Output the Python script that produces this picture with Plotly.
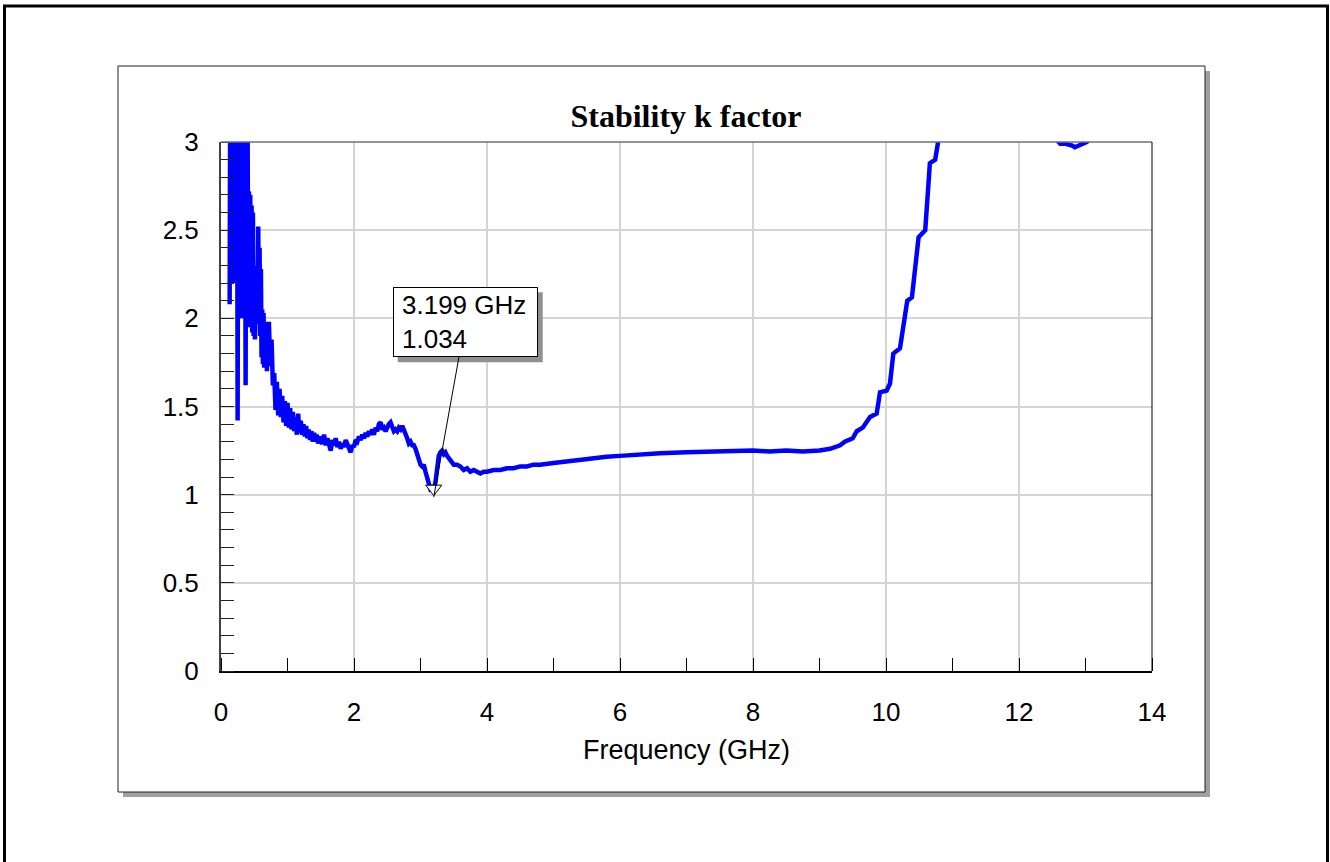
import plotly.graph_objects as go

# ---------------- data ----------------
freq_ghz = [
    0.13, 0.14, 0.15, 0.16, 0.17, 0.18, 0.19, 0.20, 0.21, 0.22,
    0.23, 0.24, 0.25, 0.26, 0.27, 0.28, 0.29, 0.30, 0.31, 0.32,
    0.33, 0.34, 0.35, 0.36, 0.37, 0.38, 0.39, 0.40, 0.41, 0.42,
    0.43, 0.44, 0.45, 0.46, 0.47, 0.48, 0.49, 0.50, 0.51, 0.52,
    0.53, 0.54, 0.55, 0.56, 0.57, 0.58, 0.59, 0.60, 0.61, 0.62,
    0.63, 0.64, 0.65, 0.66, 0.67, 0.68, 0.69, 0.70,
    0.72, 0.74, 0.76, 0.78, 0.80, 0.82, 0.84, 0.86, 0.88, 0.90,
    0.92, 0.94, 0.96, 0.98, 1.00, 1.02, 1.04, 1.06, 1.08, 1.10,
    1.12, 1.14, 1.16, 1.18, 1.20, 1.22, 1.24, 1.26, 1.28, 1.30,
    1.32, 1.34, 1.36, 1.38, 1.40, 1.42, 1.44, 1.46, 1.48, 1.50,
    1.525, 1.55, 1.575, 1.60, 1.625, 1.65, 1.675, 1.70, 1.725, 1.75,
    1.775, 1.80, 1.825, 1.85, 1.875, 1.90, 1.925, 1.95, 1.975, 2.00,
    2.025, 2.05, 2.075, 2.10, 2.125, 2.15, 2.175, 2.20, 2.225, 2.25,
    2.275, 2.30, 2.325, 2.35, 2.375, 2.40, 2.425, 2.45, 2.475, 2.50,
    2.525, 2.55, 2.575, 2.60, 2.625, 2.65, 2.675, 2.70, 2.725, 2.75,
    2.775, 2.80, 2.825, 2.85, 2.875, 2.90, 2.925, 2.95, 2.975, 3.00,
    3.025, 3.05, 3.075, 3.10, 3.125, 3.15, 3.175, 3.199, 3.225, 3.25,
    3.275, 3.30, 3.325, 3.35, 3.375, 3.40, 3.45, 3.50, 3.55, 3.60,
    3.65, 3.70, 3.75, 3.80, 3.85, 3.90, 3.95, 4.00, 4.10, 4.20,
    4.30, 4.40, 4.50, 4.60, 4.70, 4.80, 5.00, 5.20, 5.40, 5.60,
    5.80, 6.00, 6.30, 6.60, 7.00, 7.50, 8.00, 8.25, 8.50, 8.75,
    9.00, 9.16, 9.31, 9.38, 9.50, 9.56, 9.65, 9.76, 9.86, 9.91,
    10.01, 10.06, 10.11, 10.21, 10.24, 10.29, 10.32, 10.39, 10.44, 10.49,
    10.59, 10.63, 10.66, 10.74, 10.78, 10.85, 11.00, 11.50, 12.00, 12.40,
    12.55, 12.62, 12.70, 12.80, 12.84, 12.90, 12.98, 13.02, 13.10, 13.50,
    14.00,
]

k_factor = [
    2.08, 3.50, 2.30, 3.80, 2.20, 3.60, 2.40, 3.90, 2.20, 3.40,
    2.50, 3.70, 1.42, 3.50, 2.00, 3.80, 2.10, 3.30, 2.20, 3.60,
    2.00, 3.40, 2.30, 3.50, 1.62, 3.20, 2.00, 3.10, 1.95, 2.72,
    2.00, 2.70, 1.97, 2.64, 1.92, 2.60, 1.90, 2.20, 1.88, 2.10,
    1.95, 2.30, 1.98, 2.52, 1.97, 2.40, 1.90, 2.28, 1.78, 2.05,
    1.74, 2.03, 1.72, 1.98, 1.73, 1.95, 1.70, 1.80,
    1.98, 1.73, 1.88, 1.62, 1.69, 1.48, 1.64, 1.45, 1.60, 1.44,
    1.56, 1.41, 1.53, 1.39, 1.52, 1.38, 1.49, 1.37, 1.47, 1.36,
    1.44, 1.34, 1.46, 1.35, 1.42, 1.34, 1.40, 1.33, 1.39, 1.32,
    1.37, 1.31, 1.36, 1.30, 1.35, 1.30, 1.34, 1.29, 1.33, 1.30,
    1.29, 1.34, 1.28, 1.32, 1.27, 1.25, 1.31, 1.28, 1.32, 1.27,
    1.30, 1.26, 1.29, 1.27, 1.31, 1.28, 1.25, 1.24, 1.28, 1.27,
    1.31, 1.30, 1.33, 1.31, 1.34, 1.32, 1.35, 1.33, 1.36, 1.34,
    1.37, 1.34, 1.38, 1.36, 1.40, 1.41, 1.37, 1.38, 1.36, 1.39,
    1.40, 1.41, 1.39, 1.36, 1.37, 1.36, 1.38, 1.37, 1.39, 1.37,
    1.34, 1.32, 1.29, 1.30, 1.28, 1.28, 1.26, 1.23, 1.18, 1.17,
    1.16, 1.17, 1.13, 1.09, 1.05, 1.03, 1.034, 1.034, 1.07, 1.17,
    1.22, 1.24, 1.25, 1.23, 1.24, 1.22, 1.19, 1.17, 1.17, 1.16,
    1.14, 1.15, 1.13, 1.14, 1.13, 1.12, 1.13, 1.13, 1.14, 1.14,
    1.15, 1.15, 1.16, 1.16, 1.17, 1.17, 1.18, 1.19, 1.20, 1.21,
    1.215, 1.22, 1.23, 1.235, 1.24, 1.245, 1.25, 1.245, 1.25, 1.245,
    1.25, 1.26, 1.28, 1.30, 1.32, 1.36, 1.38, 1.44, 1.46, 1.58,
    1.59, 1.63, 1.80, 1.83, 1.90, 2.05, 2.10, 2.12, 2.27, 2.46,
    2.50, 2.71, 2.88, 2.90, 3.00, 3.20, 3.50, 4.00, 3.60, 3.20,
    3.02, 2.99, 2.99, 2.98, 2.97, 2.98, 2.99, 3.00, 3.05, 3.20,
    3.30,
]

marker_freq = [3.199]
marker_k = [1.034]
marker_label = "3.199 GHz<br>1.034"

x_ticks = [0, 2, 4, 6, 8, 10, 12, 14]
y_ticks = [0, 0.5, 1, 1.5, 2, 2.5, 3]

title_text = "Stability k factor"
x_title = "Frequency (GHz)"

# ---------------- geometry (pixels) ----------------
W, H = 1330, 862
PL, PR, PT, PB = 221, 1152, 142, 671  # plot area
pw, ph = PR - PL, PB - PT


def px(x):
    return (x - PL) / pw


def py(y):
    return (PB - y) / ph


SANS = "Liberation Sans, Arial, sans-serif"
SERIF = "Liberation Serif, Times New Roman, serif"

fig = go.Figure()

fig.add_trace(go.Scatter(
    x=freq_ghz, y=k_factor, mode="lines",
    line=dict(color="#0000FF", width=4.5),
    hoverinfo="skip", showlegend=False,
))

fig.add_trace(go.Scatter(
    x=marker_freq, y=marker_k, mode="markers",
    marker=dict(symbol="triangle-down", size=14, color="white",
                line=dict(color="black", width=1)),
    cliponaxis=False, hoverinfo="skip", showlegend=False,
))

# annotation box geometry relative to the marker point (pixels)
ANN_DX, ANN_DY = 31.5, -175   # box centre offset from arrow tip
ANN_W, ANN_H = 145, 70        # outer box size
TIP_SHIFT = -8.5              # arrow tip sits at the triangle apex
SHADOW = 5

shapes = []
# outer frame
shapes.append(dict(type="rect", xref="paper", yref="paper",
                   x0=px(4.5), x1=px(1327.5), y0=py(6), y1=py(900),
                   line=dict(color="black", width=3), fillcolor="rgba(0,0,0,0)",
                   layer="below"))
# inner box shadow
shapes.append(dict(type="rect", xref="paper", yref="paper",
                   x0=px(123), x1=px(1210), y0=py(71), y1=py(797),
                   line=dict(width=0), fillcolor="#A0A0A0", layer="below"))
# inner box
shapes.append(dict(type="rect", xref="paper", yref="paper",
                   x0=px(118), x1=px(1205), y0=py(66), y1=py(792),
                   line=dict(color="#202020", width=1), fillcolor="white",
                   layer="below"))
# plot border top and right
shapes.append(dict(type="line", xref="paper", yref="paper",
                   x0=0, x1=1, y0=1, y1=1,
                   line=dict(color="#707070", width=1.5)))
shapes.append(dict(type="line", xref="paper", yref="paper",
                   x0=1, x1=1, y0=0, y1=1,
                   line=dict(color="black", width=1)))
# annotation box shadow (anchored at the marker, sized in pixels)
cx = ANN_DX
cy = -ANN_DY - (-TIP_SHIFT)
shapes.append(dict(type="rect", xref="x", yref="y",
                   xsizemode="pixel", ysizemode="pixel",
                   xanchor=marker_freq[0], yanchor=marker_k[0],
                   x0=cx - ANN_W / 2 + SHADOW, x1=cx + ANN_W / 2 + SHADOW,
                   y0=cy - ANN_H / 2 - SHADOW, y1=cy + ANN_H / 2 - SHADOW,
                   line=dict(width=0), fillcolor="#909090", layer="above"))

fig.update_layout(
    width=W, height=H, autosize=False,
    margin=dict(l=PL, r=W - PR, t=PT, b=H - PB, pad=0),
    paper_bgcolor="white", plot_bgcolor="rgba(0,0,0,0)",
    shapes=shapes,
    showlegend=False,
    title=dict(text=title_text, x=686 / W, xanchor="center",
               y=1 - 116 / H, yanchor="middle",
               font=dict(family=SERIF, size=32, color="black", weight="bold")),
    font=dict(family=SANS, size=26, color="black"),
)

fig.update_xaxes(
    range=[0, 14], tickvals=x_ticks, ticks="",
    showgrid=True, gridcolor="#D4D4D4", gridwidth=1.5,
    showline=True, linecolor="black", linewidth=2,
    zeroline=False,
    minor=dict(dtick=1, tick0=0, ticks="inside", ticklen=13,
               tickcolor="black", tickwidth=1, showgrid=False),
    tickfont=dict(family=SANS, size=26, color="black"),
    ticklabelstandoff=17,
    title=dict(text=x_title, font=dict(family=SANS, size=27, color="black"),
               standoff=14),
)

fig.update_yaxes(
    range=[0, 3], tickvals=y_ticks, ticks="",
    showgrid=True, gridcolor="#D4D4D4", gridwidth=1.5,
    showline=True, linecolor="#404040", linewidth=2,
    zeroline=False,
    minor=dict(dtick=0.1, tick0=0, ticks="inside", ticklen=13,
               tickcolor="#202020", tickwidth=1, showgrid=False),
    tickfont=dict(family=SANS, size=26, color="black"),
    ticklabelstandoff=15,
)

# annotation box with leader line
PAD = 8
fig.add_annotation(
    x=marker_freq[0], y=marker_k[0], xref="x", yref="y",
    text=marker_label, showarrow=True, arrowhead=0, arrowwidth=1,
    arrowcolor="black", standoff=0,
    ax=ANN_DX, ay=ANN_DY, axref="pixel", ayref="pixel",
    yshift=TIP_SHIFT,
    width=ANN_W - 2 * PAD - 2, height=ANN_H - 2 * PAD - 2,
    align="left", valign="middle",
    bgcolor="white", bordercolor="black", borderwidth=1, borderpad=PAD,
    font=dict(family=SANS, size=26, color="black"),
)

fig.write_html("out.html")
